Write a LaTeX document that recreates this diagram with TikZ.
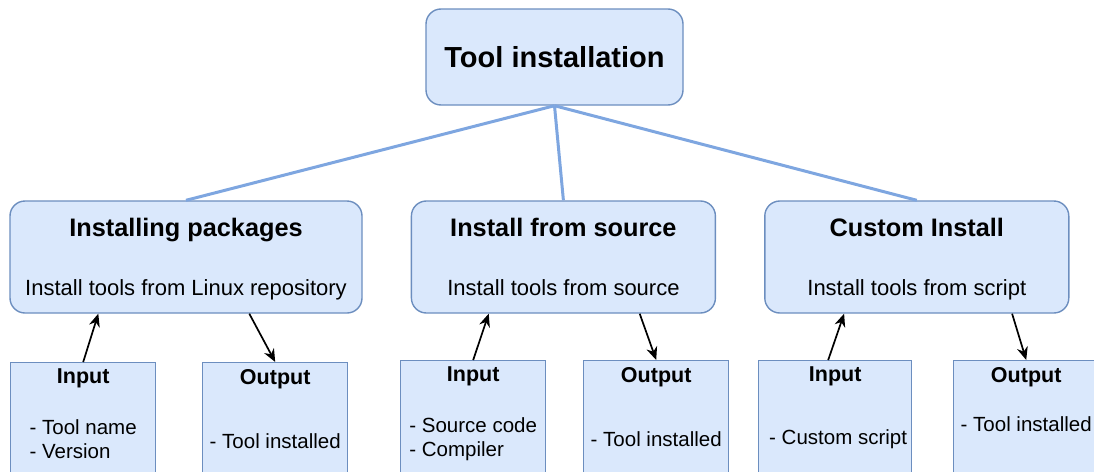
\documentclass[tikz,border=0pt]{standalone}
\usepackage{fontspec}
\setmainfont{Liberation Sans}
\usepackage{tikz}
\usetikzlibrary{arrows.meta, positioning}
\definecolor{boxfill}{HTML}{DAE8FC}
\definecolor{boxedge}{HTML}{6C8EBF}
\definecolor{treeline}{HTML}{7EA6E0}

\newcommand{\leaftext}[3]{\parbox[t][126pt][t]{132pt}{\centering{\bfseries\fontsize{21.5}{24}\selectfont #1}\\[#2]\begin{tabular}[t]{@{}l@{}}#3\end{tabular}}}

\begin{document}
\begin{tikzpicture}[
    x=1pt, y=-1pt,
    node distance=49pt and 48pt,
    every node/.style={align=center},
    rootbox/.style={rectangle, rounded corners=15pt, draw=boxedge, line width=1.4pt, fill=boxfill,
                    minimum width=257pt, minimum height=96pt, font=\bfseries\fontsize{29}{34}\selectfont},
    groupbox/.style={rectangle, rounded corners=15pt, draw=boxedge, line width=1.4pt, fill=boxfill,
                     minimum width=304pt, minimum height=112pt, text depth=1pt,
                     font=\fontsize{22}{26}\selectfont},
    leafbox/.style={rectangle, draw=boxedge, line width=1.4pt, fill=boxfill, minimum width=145pt,
                    inner sep=6.5pt, anchor=north west, font=\fontsize{20.5}{23.5}\selectfont},
    branch/.style={treeline, line width=3pt},
    flow/.style={-{Stealth[length=13pt, width=11pt]}, line width=1.7pt}
]
\useasboundingbox (0,0) rectangle (1094,471);

% --- Nodes ---
\node[rootbox] (root) at (554.5,57) {Tool installation};
\node[groupbox, minimum width=352pt] (pkg) at (186,257)
  {{\bfseries\fontsize{25.3}{30}\selectfont Installing packages}\\[33pt]Install tools from Linux repository};
\node[groupbox, right=of pkg] (src)
  {{\bfseries\fontsize{25.3}{30}\selectfont Install from source}\\[33pt]Install tools from source};
\node[groupbox, right=of src] (cus)
  {{\bfseries\fontsize{25.3}{30}\selectfont Custom Install}\\[33pt]Install tools from script};

% --- Inputs and outputs ---
\node[leafbox] (in1) at (10,362) {\leaftext{Input}{27.5pt}{- Tool name\\- Version}};
\node[leafbox] (out1) at (202,362) {\leaftext{Output}{40.5pt}{- Tool installed}};
\node[leafbox] (in2) at (400,360) {\leaftext{Input}{27.5pt}{- Source code\\- Compiler}};
\node[leafbox] (out2) at (583,360) {\leaftext{Output}{40.5pt}{- Tool installed}};
\node[leafbox, minimum width=153pt] (in3) at (758,360) {\leaftext{Input}{39.5pt}{- Custom script}};
\node[leafbox] (out3) at (953,360) {\leaftext{Output}{25.5pt}{- Tool installed}};

% --- Tree lines ---
\draw[branch] (root.south) -- (pkg.north);
\draw[branch] (root.south) -- (src.north);
\draw[branch] (root.south) -- (cus.north);

% --- Arrows ---
\draw[flow] (in1.north) -- ([xshift=89pt]pkg.south west);
\draw[flow] ([xshift=240pt]pkg.south west) -- (out1.north);
\draw[flow] (in2.north) -- ([xshift=78pt]src.south west);
\draw[flow] ([xshift=229pt]src.south west) -- (out2.north);
\draw[flow] ([xshift=-7pt]in3.north) -- ([xshift=80pt]cus.south west);
\draw[flow] ([xshift=248pt]cus.south west) -- (out3.north);

\end{tikzpicture}
\end{document}
